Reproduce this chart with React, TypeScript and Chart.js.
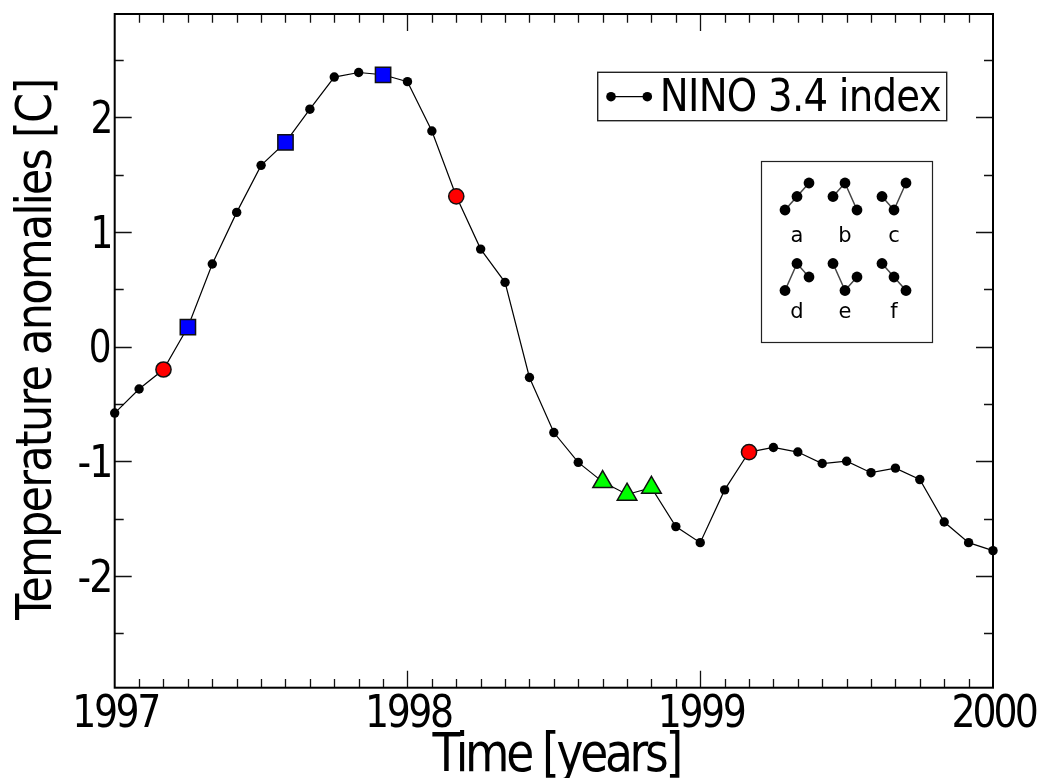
import React, { useEffect, useRef } from 'react';
import { Chart, registerables } from 'chart.js';

Chart.register(...registerables);

// ---- data ----
const startYear = 1997;
const nino34 = [
  -0.58, -0.37, -0.2, 0.17, 0.72, 1.17, 1.58, 1.78, 2.07, 2.35, 2.39, 2.37,
  2.31, 1.88, 1.31, 0.85, 0.56, -0.27, -0.75, -1.01, -1.18, -1.29, -1.23, -1.57,
  -1.71, -1.25, -0.92, -0.88, -0.92, -1.02, -1.0, -1.1, -1.06, -1.16, -1.53, -1.71,
  -1.78,
];
const redIdx = [2, 14, 26];
const blueIdx = [3, 7, 11];
const greenIdx = [20, 21, 22];
const xTickValues = [1997, 1998, 1999, 2000];
const xTickLabels = ['1997', '1998', '1999', '2000'];
const yTickValues = [-2, -1, 0, 1, 2];
const yTickLabels = ['-2', '-1', '0', '1', '2'];
const yMinorValues = [-2.5, -1.5, -0.5, 0.5, 1.5, 2.5];
const legendLabel = 'NINO 3.4 index';
const xTitle = 'Time [years]';
const yTitle = 'Temperature anomalies [C]';
const insetLetters = ['a', 'b', 'c', 'd', 'e', 'f'];
const insetPatterns = [
  [0, 1, 2],
  [1, 2, 0],
  [1, 0, 2],
  [0, 2, 1],
  [2, 0, 1],
  [2, 1, 0],
];

const timeYears = nino34.map((_, i) => startYear + i / 12);
const highlighted = new Set([...redIdx, ...blueIdx, ...greenIdx]);
const pick = (idx: number[]) => idx.map((i) => ({ x: timeYears[i], y: nino34[i] }));

const FONT = '"DejaVu Sans"';
const SX = 0.86;

function inkMetrics(ctx: CanvasRenderingContext2D, text: string, size: number) {
  ctx.save();
  ctx.font = `${size}px ${FONT}`;
  ctx.textAlign = 'left';
  ctx.textBaseline = 'alphabetic';
  if ('letterSpacing' in ctx) (ctx as any).letterSpacing = '0px';
  const m = ctx.measureText(text);
  ctx.restore();
  const l = -m.actualBoundingBoxLeft;
  const r = m.actualBoundingBoxRight;
  return { l, r, w: r - l };
}

// draw text whose ink spans `target` px, using horizontal scale SX and letter spacing
function fitText(
  ctx: CanvasRenderingContext2D,
  text: string,
  size: number,
  target: number,
  x: number,
  y: number,
  align: 'l' | 'c' | 'r',
  rotate = 0
) {
  const { l, w } = inkMetrics(ctx, text, size);
  const n = text.length;
  const hasLS = 'letterSpacing' in ctx;
  let sx = SX;
  let ls = 0;
  if (hasLS && n > 1) {
    ls = (target / sx - w) / (n - 1);
  } else {
    sx = target / w;
  }
  const inkW = target; // final ink width in px
  const startX = align === 'l' ? 0 : align === 'r' ? -inkW : -inkW / 2;
  ctx.save();
  ctx.font = `${size}px ${FONT}`;
  ctx.textAlign = 'left';
  ctx.textBaseline = 'alphabetic';
  ctx.fillStyle = '#000';
  if (hasLS) (ctx as any).letterSpacing = `${ls}px`;
  ctx.translate(x, y);
  if (rotate) ctx.rotate(rotate);
  ctx.translate(startX, 0);
  ctx.scale(sx, 1);
  ctx.fillText(text, -l, 0);
  ctx.restore();
}

const decorPlugin = {
  id: 'decor',
  beforeDatasetsDraw(chart: any) {
    const { ctx, chartArea: a, scales } = chart;
    const xs = scales.x;
    const ys = scales.y;
    ctx.save();
    ctx.strokeStyle = '#111';
    ctx.lineWidth = 1.3;
    ctx.beginPath();
    for (let m = 1; m < 36; m++) {
      const v = startYear + m / 12;
      const px = Math.round(xs.getPixelForValue(v)) + 0.5;
      const len = m % 12 === 0 ? 17 : 8.7;
      ctx.moveTo(px, a.bottom);
      ctx.lineTo(px, a.bottom - len);
      ctx.moveTo(px, a.top);
      ctx.lineTo(px, a.top + len);
    }
    const yTicks = [
      ...yTickValues.map((v) => [v, 17]),
      ...yMinorValues.map((v) => [v, 9]),
    ];
    for (const [v, len] of yTicks) {
      const py = Math.round(ys.getPixelForValue(v)) + 0.5;
      ctx.moveTo(a.left, py);
      ctx.lineTo(a.left + len, py);
      ctx.moveTo(a.right, py);
      ctx.lineTo(a.right - len, py);
    }
    ctx.stroke();
    ctx.lineWidth = 2;
    ctx.strokeStyle = '#000';
    ctx.strokeRect(a.left, a.top, a.right - a.left, a.bottom - a.top);
    ctx.restore();
  },
  afterDatasetsDraw(chart: any) {
    const { ctx, chartArea: a, scales } = chart;
    const xs = scales.x;
    const ys = scales.y;

    // tick labels
    const tickSize = 44;
    const ref = inkMetrics(ctx, '1997', tickSize).w;
    xTickValues.forEach((v, i) => {
      const px = xs.getPixelForValue(v);
      fitText(ctx, xTickLabels[i], tickSize, 83, px + 2.5, 726.7, 'c');
    });
    yTickValues.forEach((v, i) => {
      const py = ys.getPixelForValue(v);
      const t = yTickLabels[i];
      const w = (inkMetrics(ctx, t, tickSize).w / ref) * 83 * 1.03;
      fitText(ctx, t, tickSize, w, a.left - 4.7, py + 15.8, 'r');
    });

    // axis titles
    fitText(ctx, xTitle, 53, 248.3, (a.left + a.right) / 2 + 2, 770.7, 'c');
    fitText(ctx, yTitle, 50, 540, 51, (a.top + a.bottom) / 2, 'c', -Math.PI / 2);

    // legend box
    ctx.save();
    ctx.fillStyle = '#fff';
    ctx.fillRect(597.7, 72.3, 349, 48.4);
    ctx.strokeStyle = '#222';
    ctx.lineWidth = 1.4;
    ctx.strokeRect(597.7, 72.3, 349, 48.4);
    ctx.strokeStyle = '#000';
    ctx.lineWidth = 1.2;
    ctx.beginPath();
    ctx.moveTo(611, 96.7);
    ctx.lineTo(647.3, 96.7);
    ctx.stroke();
    ctx.fillStyle = '#000';
    for (const cx of [611, 647.3]) {
      ctx.beginPath();
      ctx.arc(cx, 96.7, 4.8, 0, Math.PI * 2);
      ctx.fill();
    }
    ctx.restore();
    fitText(ctx, legendLabel, 45, 277.7, 663.3, 111, 'l');

    // inset box
    const bx = 761;
    const by = 161;
    ctx.save();
    ctx.fillStyle = '#fff';
    ctx.fillRect(bx, by, 171, 181);
    ctx.strokeStyle = '#222';
    ctx.lineWidth = 1.2;
    ctx.strokeRect(bx + 0.5, by + 0.5, 171, 181);
    const colX = [36, 84, 133];
    const rowY = [35.5, 116];
    const labelY = [80.7, 157.3];
    const step = 13.5;
    insetPatterns.forEach((pat, k) => {
      const col = k % 3;
      const row = Math.floor(k / 3);
      const cx = bx + colX[col];
      const cy = by + rowY[row];
      const pts = pat.map((lv, j) => [cx + (j - 1) * 12, cy - (lv - 1) * step]);
      ctx.strokeStyle = '#444';
      ctx.lineWidth = 1.5;
      ctx.beginPath();
      pts.forEach(([x, y], j) => (j ? ctx.lineTo(x, y) : ctx.moveTo(x, y)));
      ctx.stroke();
      ctx.fillStyle = '#000';
      for (const [x, y] of pts) {
        ctx.beginPath();
        ctx.arc(x, y, 5.4, 0, Math.PI * 2);
        ctx.fill();
      }
      ctx.font = `21px ${FONT}`;
      ctx.textAlign = 'center';
      ctx.textBaseline = 'alphabetic';
      ctx.fillStyle = '#000';
      ctx.fillText(insetLetters[k], cx, by + labelY[row]);
    });
    ctx.restore();
  },
};

export default function App() {
  const canvasRef = useRef<HTMLCanvasElement | null>(null);

  useEffect(() => {
    const canvas = canvasRef.current;
    if (!canvas) return;
    const chart = new Chart(canvas, {
      type: 'scatter',
      data: {
        datasets: [
          {
            label: 'red',
            data: pick(redIdx),
            pointStyle: 'circle',
            pointRadius: 7.6,
            pointBackgroundColor: '#ff0000',
            pointBorderColor: '#111',
            pointBorderWidth: 1.5,
            showLine: false,
            clip: false,
            order: 0,
          } as any,
          {
            label: 'blue',
            data: pick(blueIdx),
            pointStyle: 'rect',
            pointRadius: 10.8,
            pointBackgroundColor: '#0000ff',
            pointBorderColor: '#111',
            pointBorderWidth: 1.5,
            showLine: false,
            clip: false,
            order: 0,
          } as any,
          {
            label: 'green',
            data: pick(greenIdx),
            pointStyle: 'triangle',
            pointRadius: 11.3,
            pointBackgroundColor: '#00ff00',
            pointBorderColor: '#111',
            pointBorderWidth: 1.5,
            showLine: false,
            clip: false,
            order: 0,
          } as any,
          {
            label: legendLabel,
            data: timeYears.map((x, i) => ({ x, y: nino34[i] })),
            showLine: true,
            borderColor: '#000',
            borderWidth: 1.2,
            pointRadius: nino34.map((_, i) => (highlighted.has(i) ? 0 : 4.7)),
            pointBackgroundColor: '#000',
            pointBorderWidth: 0,
            clip: false,
            order: 5,
          } as any,
        ],
      },
      options: {
        animation: false,
        responsive: false,
        events: [],
        layout: { padding: { left: 114.7, top: 14, right: 50, bottom: 90.3 } },
        plugins: { legend: { display: false }, tooltip: { enabled: false } },
        scales: {
          x: { type: 'linear', min: 1997, max: 2000, display: false },
          y: { type: 'linear', min: -2.975, max: 2.9, display: false },
        },
      },
      plugins: [decorPlugin],
    });
    return () => chart.destroy();
  }, []);

  return (
    <div style={{ position: 'absolute', left: 0, top: 0, width: 1043, height: 778, background: '#fff' }}>
      <canvas ref={canvasRef} width={1043} height={778} style={{ display: 'block' }} />
    </div>
  );
}
